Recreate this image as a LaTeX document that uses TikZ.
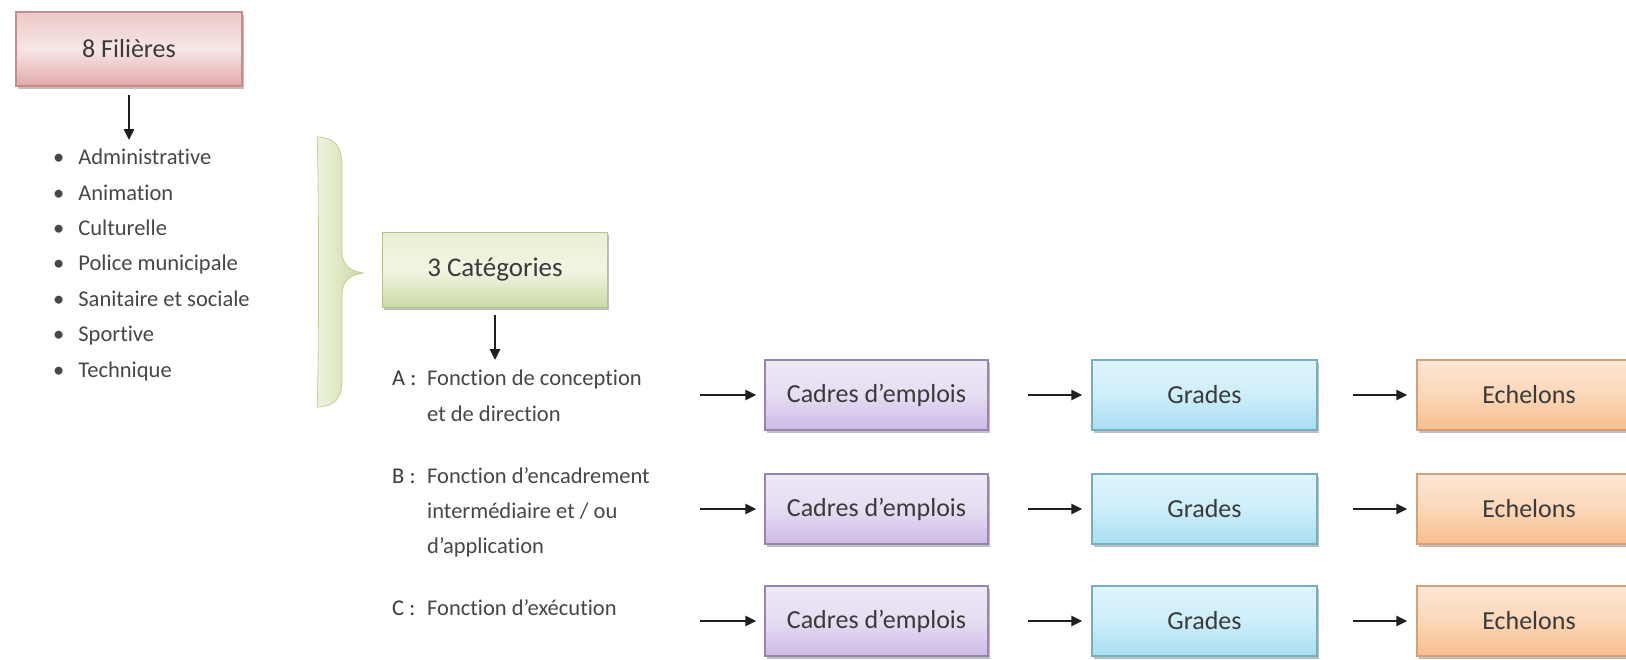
\documentclass[tikz,border=0pt]{standalone}
\usepackage{fontspec}
\setmainfont{Carlito}[Ligatures=NoCommon]
\usetikzlibrary{arrows.meta,shadows}
\definecolor{txt}{HTML}{3A3A3A}
\definecolor{ltxt}{HTML}{474747}
\definecolor{pinkB}{HTML}{C98A8C}
\definecolor{pinkT}{HTML}{EDC8C8}
\definecolor{pinkM}{HTML}{F7E6E6}
\definecolor{pinkD}{HTML}{E2A9AA}
\definecolor{greenB}{HTML}{B4C486}
\definecolor{greenT}{HTML}{E9EFD3}
\definecolor{greenM}{HTML}{F1F5E3}
\definecolor{greenD}{HTML}{CCDAA4}
\definecolor{purB}{HTML}{9784B0}
\definecolor{purT}{HTML}{EEE8F6}
\definecolor{purM}{HTML}{E6DDF2}
\definecolor{purD}{HTML}{CDBAE4}
\definecolor{bluB}{HTML}{72AFC4}
\definecolor{bluT}{HTML}{E0F5FC}
\definecolor{bluM}{HTML}{CDEEF9}
\definecolor{bluD}{HTML}{A6DEF2}
\definecolor{oraB}{HTML}{D3A078}
\definecolor{oraT}{HTML}{FDE7D6}
\definecolor{oraM}{HTML}{FBD7B8}
\definecolor{oraD}{HTML}{F7BE8C}
\definecolor{braceL}{HTML}{EEF3DF}
\definecolor{braceR}{HTML}{CBD9A3}
\definecolor{braceB}{HTML}{BFCF95}
\tikzset{
  basebox/.style={rectangle, minimum width=225pt, minimum height=71pt,
    line width=1.2pt, text=txt, font=\fontsize{26}{30}\selectfont,
    drop shadow={shadow xshift=1.5pt, shadow yshift=-2.5pt, fill=black, opacity=0.25}},
  pinkbox/.style={basebox, draw=pinkB, top color=pinkT, bottom color=pinkD, middle color=pinkM},
  greenbox/.style={basebox, draw=greenB, top color=greenT, bottom color=greenD, middle color=greenM, font=\fontsize{27}{30}\selectfont},
  purbox/.style={basebox, draw=purB, top color=purT, bottom color=purD, middle color=purM},
  blubox/.style={basebox, draw=bluB, top color=bluT, bottom color=bluD, middle color=bluM},
  orabox/.style={basebox, draw=oraB, top color=oraT, bottom color=oraD, middle color=oraM},
  item/.style={anchor=mid west, inner sep=0pt, text=ltxt, font=\fontsize{22.5}{26}\selectfont},
  arr/.style={line width=2.6pt, draw=black!88, -{Triangle[length=11pt,width=10pt]}},
}
\begin{document}
\begin{tikzpicture}[x=1pt,y=-1pt]
\useasboundingbox (0,0) rectangle (1626,659);
\clip (0,0) rectangle (1626,659);
\fill[white] (0,0) rectangle (1626,659);

% 8 Filieres
\node[pinkbox, minimum width=226pt, minimum height=74pt] (fil) at (129,49) {8 Filières};
\coordinate (filend) at (129,140);
\draw[arr, shorten <=8pt] (fil.south) -- (filend);

% list
\node[item] (l1) at (53,162) {\textbullet\hspace{14pt}Administrative};
\node[item] (l2) at (53,198) {\textbullet\hspace{14pt}Animation};
\node[item] (l3) at (53,233) {\textbullet\hspace{14pt}Culturelle};
\node[item] (l4) at (53,268) {\textbullet\hspace{14pt}Police municipale};
\node[item] (l5) at (53,304) {\textbullet\hspace{14pt}Sanitaire et sociale};
\node[item] (l6) at (53,339) {\textbullet\hspace{14pt}Sportive};
\node[item] (l7) at (53,375) {\textbullet\hspace{14pt}Technique};

% brace
\shade[left color=braceL, right color=braceR, draw=braceB, line width=0.8pt]
  (317,137) .. controls (334,137) and (342,146) .. (342,165)
  -- (342,252) .. controls (342,265) and (350,271) .. (363,273)
  .. controls (350,275) and (342,281) .. (342,294)
  -- (342,380) .. controls (342,399) and (334,407) .. (317,407)
  .. controls (319,380) and (319,165) .. (317,137) -- cycle;

% 3 Categories
\node[greenbox, minimum width=225pt, minimum height=75pt] (cat) at (495,270) {3 Catégories};
\coordinate (catend) at (495,360);
\draw[arr, shorten <=7pt] (cat.south) -- (catend);

% category labels
\node[item, text=txt] (la) at (392,383) {A :};
\node[item] (ta1) at (427,383) {Fonction de conception};
\node[item] (ta2) at (427,419) {et de direction};
\node[item, text=txt] (lb) at (392,481) {B :};
\node[item] (tb1) at (427,481) {Fonction d'encadrement};
\node[item] (tb2) at (427,516) {intermédiaire et / ou};
\node[item] (tb3) at (427,551) {d'application};
\node[item, text=txt] (lc) at (392,613) {C :};
\node[item] (tc1) at (427,613) {Fonction d'exécution};

% rows
\foreach \r/\y in {a/395, b/509, c/621} {
  \node[purbox, minimum width=223pt, minimum height=70pt] (cad\r) at (876.5,\y) {Cadres d'emplois};
  \node[blubox, minimum width=225pt, minimum height=70pt] (gr\r) at (1204.5,\y) {Grades};
  \node[orabox, minimum width=224pt, minimum height=70pt] (ech\r) at (1529,\y) {Echelons};
  \coordinate (st\r) at (700,\y);
  \draw[arr, shorten >=8pt] (st\r) -- (cad\r.west);
  \draw[arr, shorten <=39pt, shorten >=9pt] (cad\r.east) -- (gr\r.west);
  \draw[arr, shorten <=35pt, shorten >=9pt] (gr\r.east) -- (ech\r.west);
}
\end{tikzpicture}
\end{document}
